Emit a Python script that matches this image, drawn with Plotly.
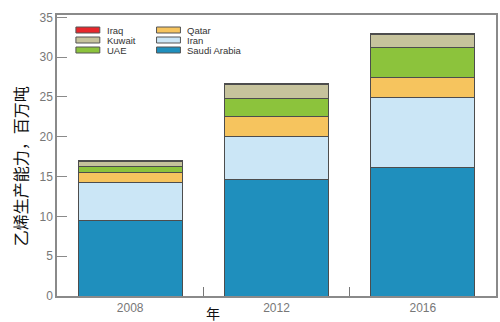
import plotly.graph_objects as go

years = ["2008", "2012", "2016"]
series_names = ["Saudi Arabia", "Iran", "Qatar", "UAE", "Kuwait", "Iraq"]
saudi = [9.5, 14.6, 16.2]
iran = [4.8, 5.4, 8.7]
qatar = [1.2, 2.6, 2.6]
uae = [0.8, 2.2, 3.7]
kuwait = [0.6, 1.8, 1.6]
iraq = [0.1, 0.1, 0.2]
colors = {"Saudi Arabia": "#1f8fbd", "Iran": "#cbe6f6", "Qatar": "#f6c45e",
          "UAE": "#8cc33c", "Kuwait": "#c6c39c", "Iraq": "#e8262b"}
values = {"Saudi Arabia": saudi, "Iran": iran, "Qatar": qatar,
          "UAE": uae, "Kuwait": kuwait, "Iraq": iraq}
legend_cols = [["Iraq", "Kuwait", "UAE"], ["Qatar", "Iran", "Saudi Arabia"]]
y_title = "乙烯生产能力，百万吨"
x_title = "年"

fig = go.Figure()
for name in series_names:
    fig.add_trace(go.Bar(x=years, y=values[name], name=name,
                         marker=dict(color=colors[name], line=dict(color="#4d4d4d", width=1)),
                         width=0.71, showlegend=False))

# geometry helpers (pixel -> paper)
L, R, T, B = 57, 2, 15, 26
W, H = 500, 322
pw, ph = W - L - R, H - T - B
def px(x):
    return (x - L) / pw
def py(y):
    return (H - B - y) / ph

shapes = []
annotations = []
col_x = [(76, 100, 106), (157, 181, 187)]
row_y = [30.0, 40.0, 50.0]
for ci, col in enumerate(legend_cols):
    x0, x1, xt = col_x[ci]
    for ri, name in enumerate(col):
        yc = row_y[ri]
        shapes.append(dict(type="rect", xref="paper", yref="paper",
                           x0=px(x0), x1=px(x1), y0=py(yc + 3), y1=py(yc - 3),
                           fillcolor=colors[name], line=dict(color="#555555", width=1)))
        annotations.append(dict(xref="paper", yref="paper", x=px(xt), y=py(yc),
                                text=name, showarrow=False, xanchor="left", yanchor="middle",
                                borderpad=0,
                                font=dict(family="Liberation Sans, Arial", size=9.5, color="#333333")))

annotations.append(dict(xref="paper", yref="paper", x=px(20), y=py(166), text=y_title,
                        textangle=-90, showarrow=False, xanchor="center", yanchor="middle",
                        font=dict(family="Noto Sans CJK SC", size=16, color="#111111")))
annotations.append(dict(xref="paper", yref="paper", x=px(214), y=py(302), text=x_title,
                        showarrow=False, xanchor="center", yanchor="top", borderpad=0,
                        font=dict(family="Noto Sans CJK SC", size=14, color="#111111")))

fig.update_layout(
    width=W, height=H, barmode="stack",
    margin=dict(l=L, r=R, t=T, b=B),
    paper_bgcolor="white", plot_bgcolor="white",
    shapes=shapes, annotations=annotations,
    xaxis=dict(range=[-0.5, 2.5], showgrid=False, showline=True, linecolor="#8a8a8a", linewidth=1.5,
               mirror=True, ticks="inside", ticklen=9, tickcolor="#777777", tickson="boundaries",
               tickfont=dict(family="Liberation Sans, Arial", size=12, color="#777777")),
    yaxis=dict(range=[0, 35.3], tickvals=[0, 5, 10, 15, 20, 25, 30, 35], showgrid=False,
               zeroline=False, showline=True, linecolor="#8a8a8a", linewidth=1.5, mirror=True,
               ticks="inside", ticklen=10, tickcolor="#8a8a8a",
               tickfont=dict(family="Liberation Sans, Arial", size=12, color="#777777")),
)

fig.write_html("out.html", config={"displayModeBar": False},
               post_script="document.body.style.margin='0';document.body.style.overflow='hidden';")
